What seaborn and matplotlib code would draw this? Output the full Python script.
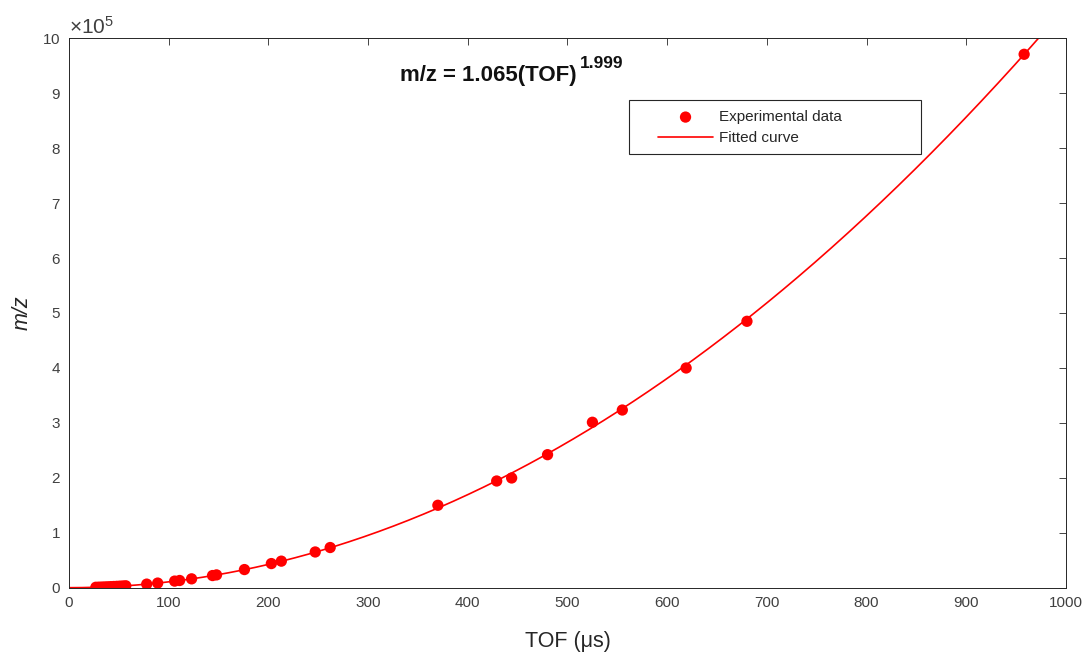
import numpy as np
import pandas as pd
import matplotlib
matplotlib.use("Agg")
import matplotlib.pyplot as plt
import seaborn as sns
from matplotlib.patches import Rectangle

# ---- data ----
tof_exp = [27, 30, 33, 36, 39, 42, 45, 48, 51, 54, 57, 78, 89, 106, 111, 123,
           144, 148, 176, 203, 213, 247, 262, 370, 429, 444, 480, 525, 555,
           619, 680, 958]
mz_exp = [780, 960, 1160, 1380, 1620, 1880, 2160, 2450, 2770, 3100, 3460,
          6500, 8400, 12000, 13100, 16100, 22100, 23300, 33000, 43900, 48300,
          65000, 73100, 150000, 194200, 199700, 242100, 301100, 323400,
          399900, 484900, 970900]
fit_a = 1.065
fit_b = 1.999
x_ticks = [0, 100, 200, 300, 400, 500, 600, 700, 800, 900, 1000]
y_ticks = [0, 1e5, 2e5, 3e5, 4e5, 5e5, 6e5, 7e5, 8e5, 9e5, 10e5]

sns.set_style("white")
plt.rcParams["font.family"] = ["Liberation Sans", "DejaVu Sans"]
plt.rcParams["mathtext.fontset"] = "custom"
plt.rcParams["mathtext.rm"] = "Liberation Sans"
plt.rcParams["mathtext.it"] = "Liberation Sans:italic"
plt.rcParams["mathtext.bf"] = "Liberation Sans:bold"

df_exp = pd.DataFrame({"TOF": tof_exp, "mz": mz_exp})
tof_fit = np.linspace(0, 1000, 600)
df_fit = pd.DataFrame({"TOF": tof_fit, "mz": fit_a * tof_fit ** fit_b})

fig = plt.figure(figsize=(10.91, 6.57), dpi=100)
ax = fig.add_axes([0.0632, 0.1055, 0.9139, 0.8362])

sns.scatterplot(data=df_exp, x="TOF", y="mz", color="#ff0000", s=66,
                edgecolor="none", linewidth=0, ax=ax, label="Experimental data",
                zorder=3)
sns.lineplot(data=df_fit, x="TOF", y="mz", color="#ff0000", linewidth=1.2,
             ax=ax, label="Fitted curve", zorder=2)

ax.set_xlim(0, 1000)
ax.set_ylim(0, 1e6)
ax.set_xticks(x_ticks)
ax.set_yticks(y_ticks)
ax.ticklabel_format(axis="y", style="sci", scilimits=(5, 5), useMathText=True)
ax.yaxis.get_offset_text().set_fontsize(15)
ax.yaxis.get_offset_text().set_color("#333333")

tick_col = "#262626"
ax.tick_params(axis="both", which="both", direction="in", length=5,
               width=0.6, colors=tick_col, labelsize=11, top=True, right=True,
               labelcolor="#404040", pad=6)
for sp in ax.spines.values():
    sp.set_visible(True)
    sp.set_color(tick_col)
    sp.set_linewidth(0.7)

ax.set_xlabel("TOF (μs)", fontsize=15.5, color="#262626", labelpad=15)
ax.set_ylabel("m/z", fontsize=15.5, color="#262626", style="italic", labelpad=7)

eq = ax.text(332, 9.22e5, "m/z = 1.065(TOF)", fontsize=16,
             fontweight="bold", color="#111111")
ax.annotate("1.999", xy=(1, 1), xycoords=eq, xytext=(2, -4),
            textcoords="offset points", fontsize=12.5, fontweight="bold",
            color="#111111", ha="left", va="bottom")

# legend
ax.add_patch(Rectangle((0.5617, 0.7894), 0.8546 - 0.5617, 0.8877 - 0.7894,
                       transform=ax.transAxes, facecolor="white",
                       edgecolor="#262626", linewidth=0.8, zorder=4))
leg = ax.legend(loc="center left", bbox_to_anchor=(0.5908, 0.8376),
                frameon=False, fontsize=11, handlelength=3.6, handletextpad=0.4,
                borderpad=0, borderaxespad=0, labelspacing=0.45,
                markerscale=1.0)
leg.set_zorder(5)

fig.savefig("out.png", dpi=100)
